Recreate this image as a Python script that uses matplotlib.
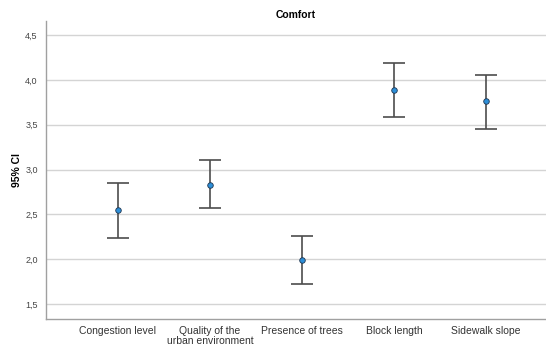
import matplotlib

matplotlib.use("Agg")
import matplotlib.pyplot as plt
import numpy as np

categories = ["Congestion level", "Quality of the\nurban environment", "Presence of trees",
              "Block length", "Sidewalk slope"]
means = [2.548, 2.830, 1.990, 3.885, 3.759]
ci_low = [2.241, 2.567, 1.719, 3.585, 3.456]
ci_high = [2.852, 3.103, 2.263, 4.185, 4.059]
yticks = [1.5, 2.0, 2.5, 3.0, 3.5, 4.0, 4.5]

plt.rcParams["font.family"] = ["Liberation Sans", "DejaVu Sans"]

fig = plt.figure(figsize=(5.46, 3.47), dpi=100)
ax = fig.add_axes([46 / 546, 1 - 319 / 347, 500 / 546, 298 / 347])

x = np.arange(len(categories))
m = np.array(means)
err = np.vstack([m - np.array(ci_low), np.array(ci_high) - m])

ax.errorbar(x, m, yerr=err, fmt="none", ecolor="#4d4d4d", elinewidth=1.2,
            capsize=8, capthick=1.2, zorder=3)
ax.scatter(x, m, s=16, color="#2d8fd8", edgecolor="#1f3550", linewidth=0.6, zorder=4)

ax.set_xlim(-0.78, 4.65)
ax.set_ylim(1.333, 4.656)
ax.set_yticks(yticks)
ax.set_yticklabels([f"{v:.1f}".replace(".", ",") for v in yticks], fontsize=6.5, color="#444444")
ax.set_xticks(x)
ax.set_xticklabels(categories, fontsize=7.5, color="#333333", linespacing=1.0)
ax.tick_params(axis="both", length=0)
ax.tick_params(axis="y", pad=6)
ax.tick_params(axis="x", pad=5)

ax.grid(axis="y", color="#d4d4d4", linewidth=1.0)
ax.set_axisbelow(True)
for side in ("top", "right"):
    ax.spines[side].set_visible(False)
for side in ("left", "bottom"):
    ax.spines[side].set_color("#a0a0a0")
    ax.spines[side].set_linewidth(1.0)

ax.set_title("Comfort", fontsize=7.5, fontweight="bold", pad=2)
ax.set_ylabel("95% CI", fontsize=7.5, fontweight="bold", labelpad=2)

fig.savefig("out.png", dpi=100)
